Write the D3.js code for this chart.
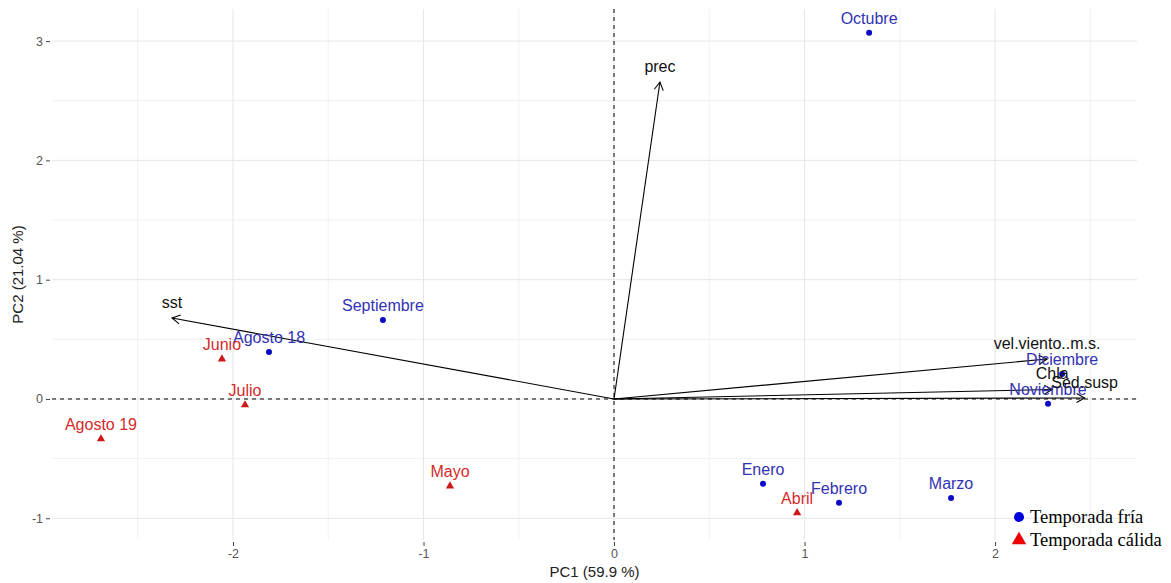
<!DOCTYPE html>
<html>
<head>
<meta charset="utf-8">
<script src="https://cdn.jsdelivr.net/npm/d3@7"></script>
<style>
  body { margin: 0; background: #fff; }
  svg { display: block; }
</style>
</head>
<body>
<div id="chart"></div>
<script>
// individuals (months) in PC space
const months = ["Octubre", "Septiembre", "Agosto 18", "Diciembre", "Noviembre", "Enero", "Febrero", "Marzo",
                "Junio", "Julio", "Agosto 19", "Mayo", "Abril"];
const pc1 = [1.339, -1.213, -1.811, 2.352, 2.278, 0.782, 1.181, 1.769, -2.058, -1.937, -2.693, -0.861, 0.961];
const pc2 = [3.07, 0.662, 0.394, 0.21, -0.04, -0.71, -0.87, -0.83, 0.335, -0.05, -0.335, -0.73, -0.955];
const season = ["fria", "fria", "fria", "fria", "fria", "fria", "fria", "fria",
                "calida", "calida", "calida", "calida", "calida"];

// variable loadings (arrows)
const varNames = ["prec", "sst", "vel.viento..m.s.", "Chla", "Sed.susp"];
const varX = [0.241, -2.32, 2.273, 2.30, 2.47];
const varY = [2.657, 0.679, 0.335, 0.08, 0.008];

const xTicks = [-2, -1, 0, 1, 2];
const yTicks = [-1, 0, 1, 2, 3];
const xMinor = [-2.5, -1.5, -0.5, 0.5, 1.5, 2.5];
const yMinor = [-0.5, 0.5, 1.5, 2.5];

const legendLabels = ["Temporada fría", "Temporada cálida"];

const width = 1171, height = 583;
const panel = { left: 52, right: 1137, top: 9, bottom: 540 };

const x = d3.scaleLinear().domain([-2.950, 2.745]).range([panel.left, panel.right]);
const y = d3.scaleLinear().domain([-1.182, 3.269]).range([panel.bottom, panel.top]);

const colBluePt = "#0a0ac8", colBlueTx = "#3232b4";
const colRedPt = "#cc1a1a", colRedTx = "#d42a2a";

const svg = d3.select("#chart").append("svg")
  .attr("width", width).attr("height", height)
  .style("font-family", "Liberation Sans, Arial, sans-serif");

svg.append("defs").append("marker")
  .attr("id", "arr")
  .attr("viewBox", "-10 -6 12 12")
  .attr("refX", 0).attr("refY", 0)
  .attr("markerWidth", 12).attr("markerHeight", 12)
  .attr("markerUnits", "userSpaceOnUse")
  .attr("orient", "auto")
  .append("path")
  .attr("d", "M-8,-4.5L0,0L-8,4.5")
  .attr("fill", "none").attr("stroke", "#000").attr("stroke-width", 1.1);

// gridlines
const grid = svg.append("g");
grid.selectAll(".vmin").data(xMinor).join("line")
  .attr("x1", d => x(d)).attr("x2", d => x(d))
  .attr("y1", panel.top).attr("y2", panel.bottom)
  .attr("stroke", "#f1f1f1");
grid.selectAll(".hmin").data(yMinor).join("line")
  .attr("y1", d => y(d)).attr("y2", d => y(d))
  .attr("x1", panel.left).attr("x2", panel.right)
  .attr("stroke", "#f1f1f1");
grid.selectAll(".vmaj").data(xTicks).join("line")
  .attr("x1", d => x(d)).attr("x2", d => x(d))
  .attr("y1", panel.top).attr("y2", panel.bottom)
  .attr("stroke", "#e6e6e6");
grid.selectAll(".hmaj").data(yTicks).join("line")
  .attr("y1", d => y(d)).attr("y2", d => y(d))
  .attr("x1", panel.left).attr("x2", panel.right)
  .attr("stroke", "#e6e6e6");

// axes (plain hyphen for negatives, like R)
const fmt = d => String(d);
const xAxis = svg.append("g")
  .attr("transform", `translate(0,${panel.bottom + 2})`)
  .call(d3.axisBottom(x).tickValues(xTicks).tickSize(4).tickPadding(3).tickFormat(fmt));
const yAxis = svg.append("g")
  .attr("transform", `translate(${panel.left - 2},0)`)
  .call(d3.axisLeft(y).tickValues(yTicks).tickSize(4).tickPadding(3).tickFormat(fmt));
[xAxis, yAxis].forEach(a => {
  a.select(".domain").remove();
  a.selectAll(".tick line").attr("stroke", "#444");
  a.selectAll(".tick text").attr("fill", "#555").style("font-size", "12.5px")
    .style("font-family", "Liberation Sans, Arial, sans-serif");
});

svg.append("text")
  .attr("x", (panel.left + panel.right) / 2).attr("y", 577)
  .attr("text-anchor", "middle").style("font-size", "15px").attr("fill", "#222")
  .text("PC1 (59.9 %)");
svg.append("text")
  .attr("transform", `translate(23,${(panel.top + panel.bottom) / 2}) rotate(-90)`)
  .attr("text-anchor", "middle").style("font-size", "15px").attr("fill", "#222")
  .text("PC2 (21.04 %)");

// reference dashed lines
svg.append("line")
  .attr("x1", x(0)).attr("x2", x(0)).attr("y1", panel.top).attr("y2", panel.bottom)
  .attr("stroke", "#000").attr("stroke-dasharray", "4,4");
svg.append("line")
  .attr("y1", y(0)).attr("y2", y(0)).attr("x1", panel.left).attr("x2", panel.right)
  .attr("stroke", "#000").attr("stroke-dasharray", "4,4");

// points
const idx = d3.range(months.length);
const tri = d3.symbol().type(d3.symbolTriangle).size(30);
const circ = d3.symbol().type(d3.symbolCircle).size(28);
svg.append("g").selectAll("path").data(idx).join("path")
  .attr("transform", i => `translate(${x(pc1[i])},${y(pc2[i])})`)
  .attr("d", i => season[i] === "fria" ? circ() : tri())
  .attr("fill", i => season[i] === "fria" ? colBluePt : colRedPt);

// arrows
svg.append("g").selectAll("line").data(varNames).join("line")
  .attr("x1", x(0)).attr("y1", y(0))
  .attr("x2", (d, i) => x(varX[i])).attr("y2", (d, i) => y(varY[i]))
  .attr("stroke", "#000").attr("stroke-width", 1.1)
  .attr("marker-end", "url(#arr)");

// point labels
svg.append("g").selectAll("text").data(idx).join("text")
  .attr("x", i => x(pc1[i])).attr("y", i => y(pc2[i]) - 9)
  .attr("text-anchor", "middle").style("font-size", "16px")
  .attr("fill", i => season[i] === "fria" ? colBlueTx : colRedTx)
  .text(i => months[i]);

// variable labels
svg.append("g").selectAll("text").data(varNames).join("text")
  .attr("x", (d, i) => x(varX[i])).attr("y", (d, i) => y(varY[i]) - 10)
  .attr("text-anchor", "middle").style("font-size", "16px").attr("fill", "#111")
  .text(d => d);

// legend
const lg = svg.append("g").attr("transform", "translate(1019,517)");
lg.append("path").attr("d", d3.symbol().type(d3.symbolCircle).size(80)()).attr("fill", "#0000dd");
lg.append("path").attr("transform", "translate(0,23)")
  .attr("d", d3.symbol().type(d3.symbolTriangle).size(90)()).attr("fill", "#ee0000");
lg.selectAll("text").data(legendLabels).join("text")
  .attr("x", 11).attr("y", (d, i) => 6 + i * 23)
  .style("font-family", "Liberation Serif, Times New Roman, serif").style("font-size", "18.5px")
  .attr("fill", "#000")
  .text(d => d);
</script>
</body>
</html>
